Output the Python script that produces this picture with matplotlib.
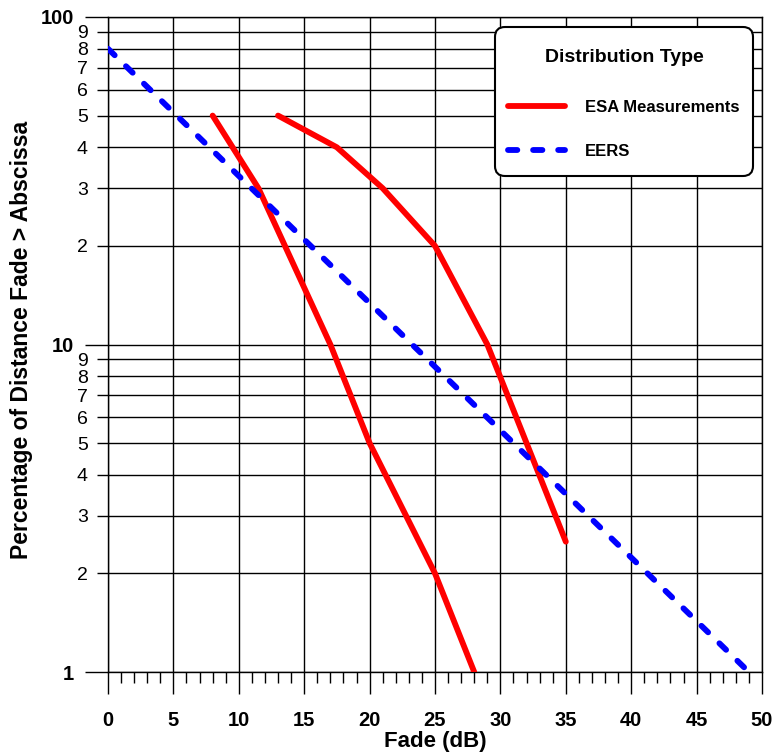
import matplotlib
matplotlib.use("Agg")
import matplotlib.pyplot as plt
from matplotlib.ticker import FixedLocator
from matplotlib.offsetbox import DrawingArea

plt.rcParams['font.family'] = ['Liberation Sans', 'DejaVu Sans']

# fade (dB) vs percentage of distance with fade above the abscissa
esa1_fade = [8, 11.5, 17, 20, 25, 28]
esa1_pct = [50, 30, 10, 5, 2, 1]

esa2_fade = [13, 17.5, 21, 25, 29, 35]
esa2_pct = [50, 40, 30, 20, 10, 2.5]

eers_fade = [0, 49]
eers_pct = [80, 1]

major_y = [1, 10, 100]
minor_y = [2, 3, 4, 5, 6, 7, 8, 9, 20, 30, 40, 50, 60, 70, 80, 90]
minor_y_labels = ['2', '3', '4', '5', '6', '7', '8', '9'] * 2

fig = plt.figure(figsize=(7.74, 7.56), dpi=100)
ax = fig.add_axes([108 / 774, 1 - 672 / 756, 654 / 774, 655 / 756])

ax.plot(esa1_fade, esa1_pct, color='#ff0000', lw=4.2, solid_capstyle='round',
        solid_joinstyle='round', label='ESA Measurements', zorder=3)
ax.plot(esa2_fade, esa2_pct, color='#ff0000', lw=4.2, solid_capstyle='round',
        solid_joinstyle='round', zorder=3)
ax.plot(eers_fade, eers_pct, color='#0000ff', lw=4.2, dashes=(1.6, 2.7),
        dash_capstyle='round', label='EERS', zorder=3)

ax.set_yscale('log')
ax.set_xlim(0, 50)
ax.set_ylim(1, 100)

ax.set_xticks(range(0, 51, 5))
ax.xaxis.set_minor_locator(FixedLocator([i for i in range(0, 51) if i % 5]))
ax.set_xticklabels([str(v) for v in range(0, 51, 5)], fontweight='bold', fontsize=14.5)

ax.set_yticks(major_y)
ax.set_yticklabels(['1', '10', '100'], fontweight='bold', fontsize=14.5)
ax.set_yticks(minor_y, minor=True)
ax.set_yticklabels(minor_y_labels, minor=True, fontsize=14)

ax.tick_params(axis='x', which='major', direction='out', length=16, width=1, pad=12)
ax.tick_params(axis='x', which='minor', direction='out', length=8, width=1)
ax.tick_params(axis='y', which='major', direction='out', length=16.5, width=1, pad=8)
ax.tick_params(axis='y', which='minor', direction='out', length=8, width=1, pad=6.5)

ax.grid(True, which='major', axis='x', color='black', lw=1)
ax.grid(True, which='both', axis='y', color='black', lw=1)
for sp in ax.spines.values():
    sp.set_linewidth(1)

ax.set_xlabel('Fade (dB)', fontsize=16, fontweight='bold')
ax.xaxis.set_label_coords(0.5, -0.09)
ax.set_ylabel('Percentage of Distance Fade > Abscissa', fontsize=16.5, fontweight='bold')
ax.yaxis.set_label_coords(-0.1147, 0.507)

leg = ax.legend(title='Distribution Type', loc='upper right',
                bbox_to_anchor=(0.986, 0.985), fancybox=True, framealpha=1,
                edgecolor='black', prop={'weight': 'bold', 'size': 12},
                title_fontproperties={'weight': 'bold', 'size': 14},
                handlelength=3.4, handletextpad=1.2, borderpad=0.8,
                labelspacing=1.75, borderaxespad=0)
leg.get_frame().set_linewidth(1.5)
leg.get_frame().set_boxstyle('round', pad=0, rounding_size=0.6)

# extra room above the title, between title and entries, and below the entries
box = leg._legend_box
title_box, entry_box = box.get_children()
box._children = [DrawingArea(1, 6.6), title_box, DrawingArea(1, 24), entry_box,
                 DrawingArea(1, 3)]
box.sep = 0

fig.savefig('out.png', dpi=100)
